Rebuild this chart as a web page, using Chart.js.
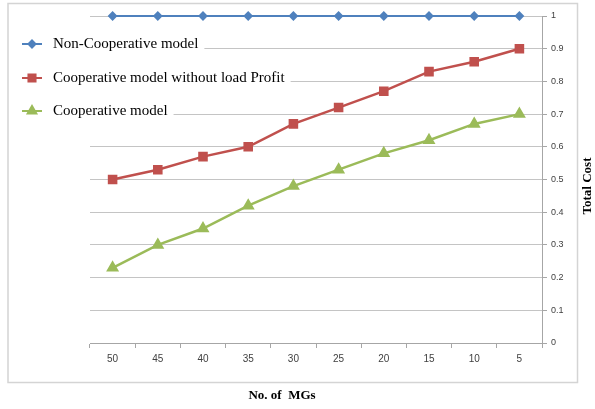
<!DOCTYPE html>
<html>
<head>
<meta charset="utf-8">
<script src="https://cdn.jsdelivr.net/npm/chart.js@4/dist/chart.umd.min.js"></script>
<style>
  html, body { margin: 0; padding: 0; background: #fff; }
  #wrap { width: 595px; height: 409px; position: relative; }
</style>
</head>
<body>
<div id="wrap"><canvas id="c" width="595" height="409"></canvas></div>
<script>
// Number of microgrids (x categories)
const mgCounts = ['50', '45', '40', '35', '30', '25', '20', '15', '10', '5'];

// Normalised total cost per model
const nonCooperative = [1, 1, 1, 1, 1, 1, 1, 1, 1, 1];
const cooperativeNoLoadProfit = [0.50, 0.53, 0.57, 0.60, 0.67, 0.72, 0.77, 0.83, 0.86, 0.90];
const cooperative = [0.23, 0.30, 0.35, 0.42, 0.48, 0.53, 0.58, 0.62, 0.67, 0.70];

const seriesNames = ['Non-Cooperative model', 'Cooperative model without load Profit', 'Cooperative model'];
const yTicks = { min: 0, max: 1, step: 0.1 };
const xTitle = 'No. of  MGs';
const yTitle = 'Total Cost';

const BLUE = '#4F81BD', RED = '#C0504D', GREEN = '#9BBB59';

// Draws a legend marker in the series colour
function legendMarker(ctx, ds, x, y) {
  ctx.fillStyle = ds.pointBackgroundColor;
  ctx.strokeStyle = ds.pointBorderColor;
  Chart.helpers.drawPoint(ctx, { pointStyle: ds.pointStyle, radius: ds.pointRadius, borderWidth: 1 }, x, y);
}

// Outer frame, axis titles and the overlapping legend
const decorations = {
  id: 'decorations',
  beforeDraw(chart) {
    const ctx = chart.ctx;
    ctx.save();
    ctx.fillStyle = '#fff';
    ctx.fillRect(0, 0, chart.width, chart.height);
    ctx.strokeStyle = '#d4d4d4';
    ctx.lineWidth = 1.5;
    ctx.strokeRect(8, 3.5, 569.5, 379);
    ctx.restore();
  },
  afterDraw(chart) {
    const ctx = chart.ctx;
    ctx.save();
    // axis titles
    ctx.fillStyle = '#000';
    ctx.font = 'bold 13px "Liberation Serif", "Times New Roman", serif';
    ctx.textAlign = 'center';
    ctx.textBaseline = 'middle';
    ctx.fillText(xTitle, 282, 396);
    ctx.save();
    ctx.translate(588, 186);
    ctx.rotate(-Math.PI / 2);
    ctx.fillText(yTitle, 0, 0);
    ctx.restore();

    // legend entries
    const rows = [44, 78, 111];
    ctx.font = '15px "Liberation Serif", "Times New Roman", serif';
    chart.data.datasets.forEach((ds, i) => {
      const y = rows[i];
      const w = ctx.measureText(ds.label).width;
      ctx.fillStyle = '#fff';
      ctx.fillRect(10, y - 11, 53 + w + 6 - 10, 22);
      ctx.strokeStyle = ds.borderColor;
      ctx.lineWidth = 2;
      ctx.beginPath();
      ctx.moveTo(22, y);
      ctx.lineTo(42, y);
      ctx.stroke();
      legendMarker(ctx, ds, 32, y);
      ctx.fillStyle = '#000';
      ctx.textAlign = 'left';
      ctx.textBaseline = 'middle';
      ctx.fillText(ds.label, 53, y);
    });
    ctx.restore();
  }
};

new Chart(document.getElementById('c'), {
  type: 'line',
  data: {
    labels: mgCounts,
    datasets: [
      {
        label: seriesNames[0], data: nonCooperative,
        borderColor: BLUE, backgroundColor: BLUE,
        pointBackgroundColor: BLUE, pointBorderColor: BLUE,
        pointStyle: 'rectRot', pointRadius: 3.5, borderWidth: 2, clip: false
      },
      {
        label: seriesNames[1], data: cooperativeNoLoadProfit,
        borderColor: RED, backgroundColor: RED,
        pointBackgroundColor: RED, pointBorderColor: RED,
        pointStyle: 'rect', pointRadius: 5, borderWidth: 2.5, clip: false
      },
      {
        label: seriesNames[2], data: cooperative,
        borderColor: GREEN, backgroundColor: GREEN,
        pointBackgroundColor: GREEN, pointBorderColor: GREEN,
        pointStyle: 'triangle', pointRadius: 5, borderWidth: 2.5, clip: false
      }
    ]
  },
  options: {
    responsive: false,
    animation: false,
    devicePixelRatio: 1,
    layout: { padding: { left: 90, top: 16, right: 0, bottom: 36 } },
    plugins: { legend: { display: false }, tooltip: { enabled: false } },
    elements: { line: { tension: 0 } },
    scales: {
      x: {
        offset: true,
        grid: { display: true, drawOnChartArea: false, drawTicks: true, tickLength: 5, offset: true, color: '#a6a6a6', lineWidth: 1 },
        border: { display: true, color: '#a6a6a6', width: 1 },
        ticks: { color: '#404040', font: { family: '"Liberation Sans", Arial, sans-serif', size: 10 }, padding: 5, maxRotation: 0, autoSkip: false },
        afterFit(scale) { scale.height = 30; }
      },
      y: {
        position: 'right',
        min: yTicks.min, max: yTicks.max,
        ticks: {
          stepSize: yTicks.step,
          color: '#404040',
          font: { family: '"Liberation Sans", Arial, sans-serif', size: 9 },
          padding: 4,
          callback: v => Number(v.toFixed(1)).toString()
        },
        grid: { color: '#c4c4c4', lineWidth: 1, drawTicks: true, tickLength: 5, tickColor: '#a6a6a6' },
        border: { display: true, color: '#a6a6a6', width: 1 },
        afterFit(scale) { scale.width = 53; }
      }
    }
  },
  plugins: [decorations]
});
</script>
</body>
</html>
